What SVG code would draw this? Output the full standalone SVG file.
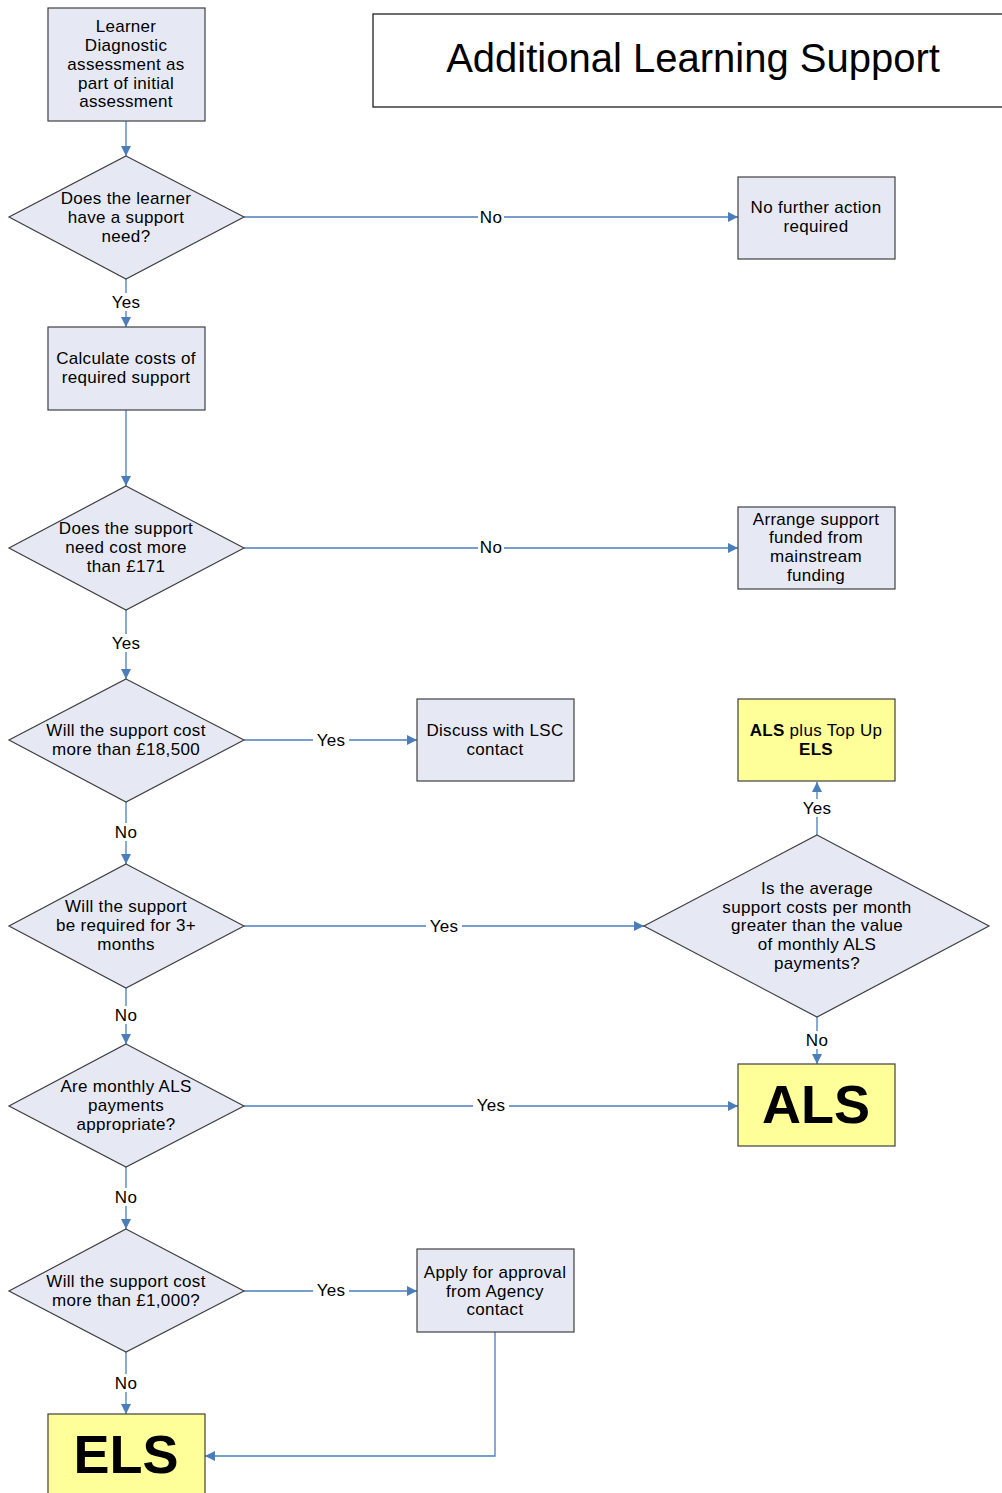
<svg xmlns="http://www.w3.org/2000/svg" width="1002" height="1493" viewBox="0 0 1002 1493">
<style>
.n{fill:#E6E9F4;stroke:#404040;stroke-width:1.2}
.y{fill:#FFFF99;stroke:#404040;stroke-width:1.2}
.t{font-family:"Liberation Sans",Arial,sans-serif;font-size:17px;letter-spacing:0.3px;fill:#000;text-anchor:middle}
.big{font-family:"Liberation Sans",Arial,sans-serif;font-size:54px;font-weight:bold;fill:#000;text-anchor:middle}
.c{fill:none;stroke:#4A7EBB;stroke-width:1.3}
.lb{fill:#fff}
</style>
<defs>
<marker id="a" viewBox="0 0 10 10" refX="10" refY="5" markerWidth="10" markerHeight="10" markerUnits="userSpaceOnUse" orient="auto">
<path d="M0,0 L10,5 L0,10 z" fill="#4A7EBB"/>
</marker>
</defs>
<rect width="1002" height="1493" fill="#fff"/>
<g id="title">
<rect x="373" y="14" width="660" height="93" fill="#fff" stroke="#202020" stroke-width="1.3"/>
<text x="693" y="72" class="t" style="font-size:40px;letter-spacing:0">Additional Learning Support</text>
</g>
<g id="connectors">
<path class="c" marker-end="url(#a)" d="M126,121 V156"/>
<path class="c" marker-end="url(#a)" d="M244,217 H738"/>
<path class="c" marker-end="url(#a)" d="M126,279 V327"/>
<path class="c" marker-end="url(#a)" d="M126,410 V486"/>
<path class="c" marker-end="url(#a)" d="M244,548 H738"/>
<path class="c" marker-end="url(#a)" d="M126,610 V679"/>
<path class="c" marker-end="url(#a)" d="M244,740 H417"/>
<path class="c" marker-end="url(#a)" d="M126,802 V864"/>
<path class="c" marker-end="url(#a)" d="M244,926 H644"/>
<path class="c" marker-end="url(#a)" d="M817,835 V782"/>
<path class="c" marker-end="url(#a)" d="M817,1017 V1064"/>
<path class="c" marker-end="url(#a)" d="M126,988 V1044"/>
<path class="c" marker-end="url(#a)" d="M244,1106 H738"/>
<path class="c" marker-end="url(#a)" d="M126,1167 V1229"/>
<path class="c" marker-end="url(#a)" d="M244,1291 H417"/>
<path class="c" marker-end="url(#a)" d="M126,1352 V1414"/>
<path class="c" marker-end="url(#a)" d="M495,1332 V1456 H205"/>
<g>
<rect class="lb" x="478" y="208" width="26" height="18"/><text class="t" x="491" y="223">No</text>
<rect class="lb" x="108" y="293" width="36" height="18"/><text class="t" x="126" y="308">Yes</text>
<rect class="lb" x="478" y="539" width="26" height="18"/><text class="t" x="491" y="553">No</text>
<rect class="lb" x="108" y="634" width="36" height="18"/><text class="t" x="126" y="649">Yes</text>
<rect class="lb" x="313" y="731" width="36" height="18"/><text class="t" x="331" y="746">Yes</text>
<rect class="lb" x="113" y="823" width="26" height="18"/><text class="t" x="126" y="838">No</text>
<rect class="lb" x="426" y="917" width="36" height="18"/><text class="t" x="444" y="932">Yes</text>
<rect class="lb" x="799" y="799" width="36" height="18"/><text class="t" x="817" y="814">Yes</text>
<rect class="lb" x="804" y="1031" width="26" height="18"/><text class="t" x="817" y="1046">No</text>
<rect class="lb" x="113" y="1006" width="26" height="18"/><text class="t" x="126" y="1021">No</text>
<rect class="lb" x="473" y="1096" width="36" height="18"/><text class="t" x="491" y="1111">Yes</text>
<rect class="lb" x="113" y="1188" width="26" height="18"/><text class="t" x="126" y="1203">No</text>
<rect class="lb" x="313" y="1281" width="36" height="18"/><text class="t" x="331" y="1296">Yes</text>
<rect class="lb" x="113" y="1374" width="26" height="18"/><text class="t" x="126" y="1389">No</text>
</g>
</g>
<g id="n1">
<rect class="n" x="48" y="8" width="157" height="113"/>
<text class="t" x="126" y="32">Learner</text>
<text class="t" x="126" y="51">Diagnostic</text>
<text class="t" x="126" y="70">assessment as</text>
<text class="t" x="126" y="89">part of initial</text>
<text class="t" x="126" y="107">assessment</text>
</g>
<g id="d1">
<polygon class="n" points="126,156 244,217 126,279 9,217"/>
<text class="t" x="126" y="204">Does the learner</text>
<text class="t" x="126" y="223">have a support</text>
<text class="t" x="126" y="242">need?</text>
</g>
<g id="n2">
<rect class="n" x="738" y="177" width="157" height="82"/>
<text class="t" x="816" y="213">No further action</text>
<text class="t" x="816" y="232">required</text>
</g>
<g id="n3">
<rect class="n" x="48" y="327" width="157" height="83"/>
<text class="t" x="126" y="364">Calculate costs of</text>
<text class="t" x="126" y="383">required support</text>
</g>
<g id="d2">
<polygon class="n" points="126,486 244,548 126,610 9,548"/>
<text class="t" x="126" y="534">Does the support</text>
<text class="t" x="126" y="553">need cost more</text>
<text class="t" x="126" y="572">than £171</text>
</g>
<g id="n4">
<rect class="n" x="738" y="507" width="157" height="82"/>
<text class="t" x="816" y="525">Arrange support</text>
<text class="t" x="816" y="543">funded from</text>
<text class="t" x="816" y="562">mainstream</text>
<text class="t" x="816" y="581">funding</text>
</g>
<g id="d3">
<polygon class="n" points="126,679 244,740 126,802 9,740"/>
<text class="t" x="126" y="736">Will the support cost</text>
<text class="t" x="126" y="755">more than £18,500</text>
</g>
<g id="n5">
<rect class="n" x="417" y="699" width="157" height="82"/>
<text class="t" x="495" y="736">Discuss with LSC</text>
<text class="t" x="495" y="755">contact</text>
</g>
<g id="n6">
<rect class="y" x="738" y="699" width="157" height="82"/>
<text class="t" x="816" y="736"><tspan font-weight="bold">ALS</tspan> plus Top Up</text>
<text class="t" x="816" y="755" font-weight="bold">ELS</text>
</g>
<g id="d4">
<polygon class="n" points="126,864 244,926 126,988 9,926"/>
<text class="t" x="126" y="912">Will the support</text>
<text class="t" x="126" y="931">be required for 3+</text>
<text class="t" x="126" y="950">months</text>
</g>
<g id="d5">
<polygon class="n" points="817,835 989,926 817,1017 644,926"/>
<text class="t" x="817" y="894">Is the average</text>
<text class="t" x="817" y="913">support costs per month</text>
<text class="t" x="817" y="931">greater than the value</text>
<text class="t" x="817" y="950">of monthly ALS</text>
<text class="t" x="817" y="969">payments?</text>
</g>
<g id="n7">
<rect class="y" x="738" y="1064" width="157" height="82"/>
<text class="big" x="816" y="1123">ALS</text>
</g>
<g id="d6">
<polygon class="n" points="126,1044 244,1106 126,1167 9,1106"/>
<text class="t" x="126" y="1092">Are monthly ALS</text>
<text class="t" x="126" y="1111">payments</text>
<text class="t" x="126" y="1130">appropriate?</text>
</g>
<g id="d7">
<polygon class="n" points="126,1229 244,1291 126,1352 9,1291"/>
<text class="t" x="126" y="1287">Will the support cost</text>
<text class="t" x="126" y="1306">more than £1,000?</text>
</g>
<g id="n8">
<rect class="n" x="417" y="1249" width="157" height="83"/>
<text class="t" x="495" y="1278">Apply for approval</text>
<text class="t" x="495" y="1297">from Agency</text>
<text class="t" x="495" y="1315">contact</text>
</g>
<g id="n9">
<rect class="y" x="48" y="1414" width="157" height="82"/>
<text class="big" x="126" y="1473">ELS</text>
</g>
</svg>
